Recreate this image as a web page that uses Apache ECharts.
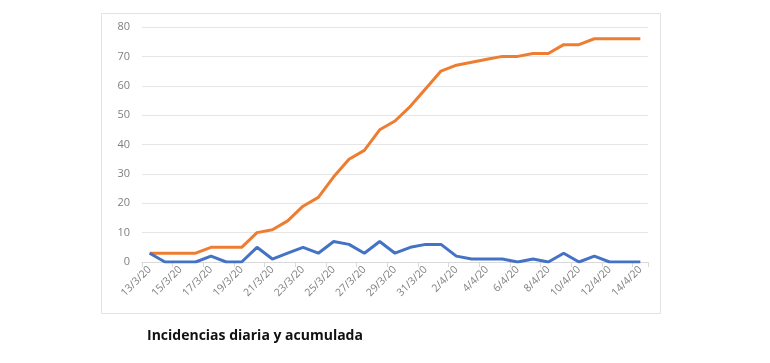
<!DOCTYPE html>
<html><head><meta charset="utf-8">
<script src="https://cdn.jsdelivr.net/npm/echarts@6/dist/echarts.min.js"></script>
<style>html,body{margin:0;padding:0;background:#fff}#c{width:770px;height:363px}</style>
</head><body><div id="c"></div>
<script>
var categories = ["13/3/20","14/3/20","15/3/20","16/3/20","17/3/20","18/3/20","19/3/20","20/3/20","21/3/20","22/3/20","23/3/20","24/3/20","25/3/20","26/3/20","27/3/20","28/3/20","29/3/20","30/3/20","31/3/20","1/4/20","2/4/20","3/4/20","4/4/20","5/4/20","6/4/20","7/4/20","8/4/20","9/4/20","10/4/20","11/4/20","12/4/20","13/4/20","14/4/20"];
var daily = [3,0,0,0,2,0,0,5,1,3,5,3,7,6,3,7,3,5,6,6,2,1,1,1,0,1,0,3,0,2,0,0,0];
var cumulative = [3,3,3,3,5,5,5,10,11,14,19,22,29,35,38,45,48,53,59,65,67,68,69,70,70,71,71,74,74,76,76,76,76];
var yTicks = [0,10,20,30,40,50,60,70,80];
var title = "Incidencias diaria y acumulada";

var chart = echarts.init(document.getElementById('c'));
chart.setOption({
  animation: false,
  backgroundColor: '#fff',
  graphic: [
    {type:'rect', shape:{x:101.5,y:13.5,width:559,height:300}, style:{fill:'none',stroke:'#e3e3e3',lineWidth:1}, z:-1},
    {type:'text', left:147, top:329, style:{text:title, font:'bold 14px "Open Sans", sans-serif', fill:'#111'}}
  ],
  grid: {left:142, right:122, top:27, bottom:101, containLabel:false},
  xAxis: {
    type:'category', data:categories, boundaryGap:true,
    axisLine:{show:true, lineStyle:{color:'#d9d9d9'}},
    axisTick:{show:true, interval:1, length:5, lineStyle:{color:'#d9d9d9'}},
    axisLabel:{interval:1, rotate:45, color:'#7f7f7f', fontSize:10.5, fontFamily:'"Open Sans", sans-serif', margin:6}
  },
  yAxis: {
    type:'value', min:yTicks[0], max:yTicks[yTicks.length-1], interval:10,
    axisLine:{show:false}, axisTick:{show:false},
    splitLine:{lineStyle:{color:'#e6e6e6'}},
    axisLabel:{color:'#7f7f7f', fontSize:11, fontFamily:'"Open Sans", sans-serif', margin:12}
  },
  series: [
    {type:'line', data:daily, symbol:'none', lineStyle:{color:'#4472C4', width:3}, z:3},
    {type:'line', data:cumulative, symbol:'none', lineStyle:{color:'#ED7D31', width:3}, z:2}
  ]
});
</script></body></html>
